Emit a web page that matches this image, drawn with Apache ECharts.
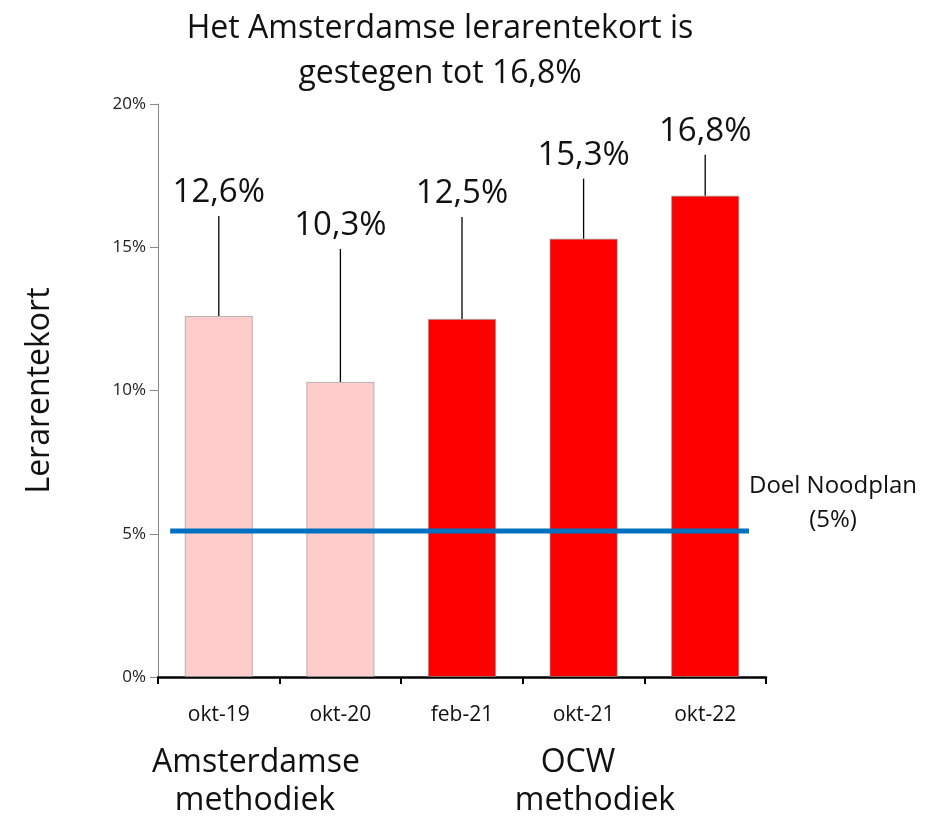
<!DOCTYPE html>
<html>
<head>
<meta charset="utf-8">
<script src="https://cdn.jsdelivr.net/npm/echarts@6/dist/echarts.min.js"></script>
<style>
  html, body { margin: 0; padding: 0; background: #fff; }
  #chart-container { width: 941px; height: 816px; }
</style>
</head>
<body>
<div id="chart-container"></div>
<script>
// Data
const categories = ["okt-19", "okt-20", "feb-21", "okt-21", "okt-22"];
const shortage = [12.6, 10.3, 12.5, 15.3, 16.8]; // lerarentekort in %
const methods = ["Amsterdamse", "Amsterdamse", "OCW", "OCW", "OCW"];
const targetValue = 5.1; // Doel Noodplan line (drawn just above 5%)
const targetSpan = [-0.4, 4.36]; // in category index units
const yTicks = [0, 5, 10, 15, 20];

const FONT = "Open Sans";

// leader line length (px) above each bar, as placed in the original
const leaderLen = [100, 133, 102, 60, 41];

const methodColor = { Amsterdamse: "#FFCCCC", OCW: "#FF0000" };

const chart = echarts.init(document.getElementById("chart-container"));

const option = {
  animation: false,
  textStyle: { fontFamily: FONT },
  title: {
    text: "Het Amsterdamse lerarentekort is\ngestegen tot 16,8%",
    left: 435,
    top: 1,
    textAlign: "center",
    textStyle: { fontFamily: FONT, fontSize: 32, fontWeight: "normal", color: "#111", lineHeight: 45 },
  },
  grid: { left: 158, right: 175, top: 104, bottom: 139 },
  xAxis: [
    {
      type: "category",
      data: categories,
      axisLine: { lineStyle: { color: "#000", width: 2.5 } },
      axisTick: { show: true, length: 7, lineStyle: { color: "#000", width: 2 } },
      axisLabel: { color: "#111", fontSize: 21, margin: 28, fontFamily: FONT },
    },
    {
      // hidden helper axis for the target line
      type: "value",
      min: -0.5,
      max: 4.5,
      show: false,
    },
  ],
  yAxis: {
    type: "value",
    min: yTicks[0],
    max: yTicks[yTicks.length - 1],
    interval: 5,
    name: "Lerarentekort",
    nameLocation: "middle",
    nameGap: 102,
    nameTextStyle: { fontSize: 32, color: "#111", fontFamily: FONT },
    axisLine: { show: true, onZero: false, lineStyle: { color: "#888", width: 1 } },
    axisTick: { show: true, length: 8, lineStyle: { color: "#888" } },
    axisLabel: { formatter: "{value}%", color: "#222", fontSize: 17, margin: 12, fontFamily: FONT },
    splitLine: { show: false },
  },
  series: [
    {
      type: "bar",
      barWidth: "56%",
      data: shortage.map((v, i) => ({
        value: v,
        itemStyle: {
          color: methodColor[methods[i]],
          borderColor: "rgba(140,140,140,0.6)",
          borderWidth: 1,
        },
      })),
    },
    {
      // leader lines + value labels
      type: "custom",
      data: categories.map((c, i) => [i, shortage[i]]),
      z: 5,
      renderItem: (params, api) => {
        const top = api.coord([api.value(0), api.value(1)]);
        const len = leaderLen[params.dataIndex];
        const label = api.value(1).toFixed(1).replace(".", ",") + "%";
        return {
          type: "group",
          children: [
            {
              type: "line",
              shape: { x1: top[0], y1: top[1], x2: top[0], y2: top[1] - len },
              style: { stroke: "#000", lineWidth: 1.3 },
            },
            {
              type: "text",
              x: top[0],
              y: top[1] - len - 23,
              style: {
                text: label,
                align: "center",
                verticalAlign: "middle",
                fontFamily: FONT,
                fontSize: 33,
                fill: "#111",
              },
            },
          ],
        };
      },
    },
    {
      type: "line",
      xAxisIndex: 1,
      data: targetSpan.map((x) => [x, targetValue]),
      symbol: "none",
      z: 10,
      lineStyle: { color: "#0070C0", width: 5, cap: "butt" },
    },
  ],
  graphic: [
    {
      type: "text",
      x: 833, y: 503,
      style: { text: "Doel Noodplan\n(5%)", align: "center", verticalAlign: "middle", fontFamily: FONT, fontSize: 24, lineHeight: 34, fill: "#111" },
    },
    {
      type: "text",
      x: 256, y: 763,
      style: { text: "Amsterdamse", align: "center", verticalAlign: "middle", fontFamily: FONT, fontSize: 32, fill: "#111" },
    },
    {
      type: "text",
      x: 255, y: 801,
      style: { text: "methodiek", align: "center", verticalAlign: "middle", fontFamily: FONT, fontSize: 32, fill: "#111" },
    },
    {
      type: "text",
      x: 578, y: 763,
      style: { text: "OCW", align: "center", verticalAlign: "middle", fontFamily: FONT, fontSize: 32, fill: "#111" },
    },
    {
      type: "text",
      x: 595, y: 801,
      style: { text: "methodiek", align: "center", verticalAlign: "middle", fontFamily: FONT, fontSize: 32, fill: "#111" },
    },
  ],
};

chart.setOption(option);
</script>
</body>
</html>
